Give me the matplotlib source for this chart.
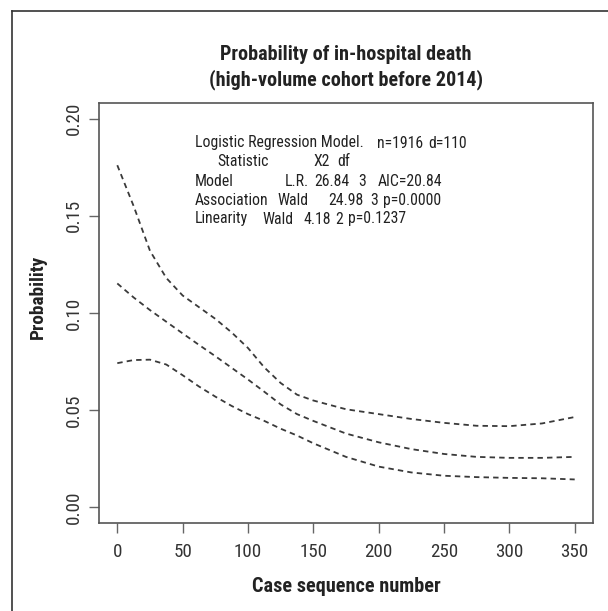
import matplotlib
matplotlib.use("Agg")
import matplotlib.pyplot as plt
from matplotlib.lines import Line2D
from matplotlib import font_manager as fm

# ---- data ----
case_no = [0, 12.5, 25, 37.5, 50, 62.5, 75, 87.5, 100, 112.5, 125, 137.5, 150,
           175, 200, 225, 250, 275, 300, 325, 350]
upper_ci = [0.176, 0.155, 0.132, 0.118, 0.109, 0.103, 0.097, 0.090, 0.082, 0.072,
            0.064, 0.058, 0.055, 0.0505, 0.048, 0.0455, 0.0435, 0.042, 0.0418,
            0.0432, 0.0465]
estimate = [0.1152, 0.108, 0.1015, 0.0955, 0.0895, 0.0836, 0.0778, 0.0718, 0.0658,
            0.0595, 0.053, 0.048, 0.0445, 0.038, 0.0335, 0.030, 0.0275, 0.026,
            0.0255, 0.0255, 0.026]
lower_ci = [0.0742, 0.0758, 0.076, 0.0735, 0.068, 0.0622, 0.057, 0.0522, 0.048,
            0.0445, 0.0405, 0.037, 0.033, 0.026, 0.021, 0.018, 0.0163, 0.0156,
            0.0152, 0.015, 0.0144]
x_ticks = [0, 50, 100, 150, 200, 250, 300, 350]
y_ticks = [0.00, 0.05, 0.10, 0.15, 0.20]
y_tick_labels = ["0.00", "0.05", "0.10", "0.15", "0.20"]

title_lines = ["Probability of in-hospital death", "(high-volume cohort before 2014)"]
x_label = "Case sequence number"
y_label = "Probability"
stats_rows = [
    [("Logistic Regression Model.", 195), ("n=1916", 377), ("d=110", 423)],
    [("Statistic", 217), ("X2", 313), ("df", 337)],
    [("Model", 195), ("L.R.", 285), ("26.84", 313), ("3", 358), ("AIC=20.84", 378)],
    [("Association", 195), ("Wald", 277), ("24.98", 328), ("3", 370), ("p=0.0000", 382)],
    [("Linearity", 195), ("Wald", 262), ("4.18", 303), ("2", 333), ("p=0.1237", 345)],
]

# ---- choose a narrow sans font if one is installed ----
def pick_font():
    entries = fm.fontManager.ttflist
    names = {(e.name, e.stretch) for e in entries}
    if any(n == "Liberation Sans Narrow" for n, _ in names):
        return "Liberation Sans Narrow", "normal"
    for n, s in names:
        if n == "Roboto Condensed":
            return n, "normal"
    for n, s in names:
        if n == "DejaVu Sans" and s in ("condensed", "semi-condensed"):
            return n, s
    return "Liberation Sans", "normal"

FONT, STRETCH = pick_font()
plt.rcParams["font.family"] = [FONT, "Liberation Sans", "DejaVu Sans"]
plt.rcParams["font.stretch"] = STRETCH

W, H = 608, 611
fig = plt.figure(figsize=(W / 100, H / 100), dpi=100)
fig.patch.set_facecolor("white")
renderer = fig.canvas.get_renderer()

def text_width(text, size, weight="normal"):
    t = fig.text(0, 0, text, fontsize=size, fontweight=weight, fontstretch=STRETCH)
    w = t.get_window_extent(renderer=renderer).width
    t.remove()
    return w

def fit_size(text, target_px, weight="normal", base=12.0, cap=None):
    s = base * target_px / text_width(text, base, weight)
    if cap is not None:
        s = min(s, cap)
    return s

def fx(px):
    return px / W

def fy(py):
    return 1 - py / H

stat_size = fit_size("Logistic Regression Model.", 168, cap=12.5)
title_size = fit_size(title_lines[0], 252, "bold", cap=15.5)
xlab_size = fit_size(x_label, 188, "bold", cap=15)
tick_size = fit_size("350", 28, cap=15)

ax = fig.add_axes([fx(99), fy(523), fx(593) - fx(99), fy(103) - fy(523)])

for series in (upper_ci, estimate, lower_ci):
    ax.plot(case_no, series, color="#3a3a3a", lw=1.3, linestyle=(0, (3, 2.3)))

ax.set_xlim(-14, 364)
ax.set_ylim(-0.008, 0.208)
ax.set_xticks(x_ticks)
ax.set_xticklabels([str(t) for t in x_ticks])
ax.set_yticks(y_ticks)
ax.set_yticklabels(y_tick_labels, rotation=90, va="center")

for s in ax.spines.values():
    s.set_color("#555555")
    s.set_linewidth(1.2)
ax.tick_params(axis="both", direction="out", length=7.5, width=1.0,
               color="#666666", labelcolor="#333333", labelsize=tick_size)
ax.tick_params(axis="x", pad=7)
ax.tick_params(axis="y", pad=4)

fig.text(fx(346), fy(587), x_label, ha="center", va="center",
         fontsize=xlab_size, fontweight="bold", color="#222222")
fig.text(fx(38), fy(297), y_label, ha="center", va="center", rotation=90,
         fontsize=xlab_size * 0.95, fontweight="bold", color="#222222")

fig.text(fx(346), fy(55), title_lines[0], ha="center", va="center",
         fontsize=title_size, fontweight="bold", color="#222222")
fig.text(fx(346), fy(80), title_lines[1], ha="center", va="center",
         fontsize=title_size, fontweight="bold", color="#222222")

# statistics block: keep reference positions, nudging a piece right only
# when the previous piece would run into it
row_y = [143, 162, 181, 200, 219]
gap = 5
for yy, row in zip(row_y, stats_rows):
    end = -1e9
    for txt, xx in row:
        x0 = max(xx, end + gap)
        fig.text(fx(x0), fy(yy), txt, ha="left", va="center", fontsize=stat_size,
                 color="#222222")
        end = x0 + text_width(txt, stat_size)

# outer frame (partially visible in reference)
fig.add_artist(Line2D([fx(12), fx(12)], [0, fy(11)], color="#333333", lw=1.2))
fig.add_artist(Line2D([fx(12), 1], [fy(11), fy(11)], color="#333333", lw=1.2))

fig.savefig("out.png", dpi=100, facecolor="white")
